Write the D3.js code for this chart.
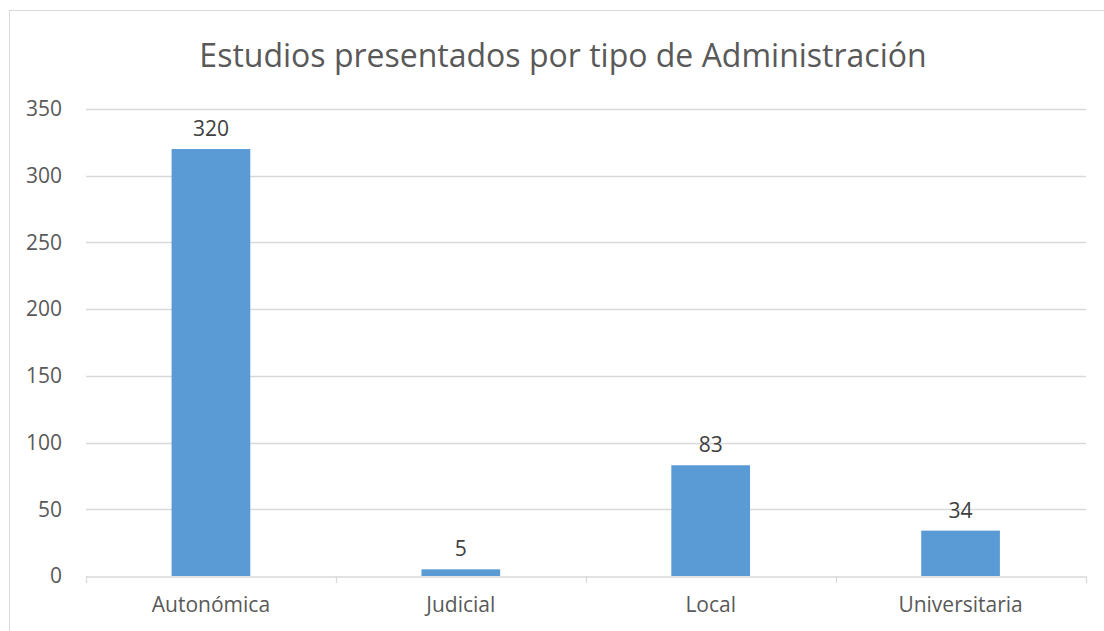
<!DOCTYPE html>
<html>
<head>
  <meta charset="utf-8">
  <title>Estudios presentados por tipo de Administración</title>
  <script src="https://d3js.org/d3.v7.min.js"></script>
  <style>
    html, body { margin: 0; overflow: hidden; height: 100%; background: #fff; }
    text { font-family: "Open Sans", "Liberation Sans", sans-serif; }
  </style>
</head>
<body>
<svg width="1104" height="631"></svg>

<script>
// datos
const categories = ["Autonómica", "Judicial", "Local", "Universitaria"];
const values = [320, 5, 83, 34];
const yTicks = [0, 50, 100, 150, 200, 250, 300, 350];
const title = "Estudios presentados por tipo de Administración";

const width = 1104, height = 631;
const margin = { top: 110, right: 18, bottom: 55, left: 86 };
const plotRight = width - margin.right;
const plotBottom = height - margin.bottom;

const svg = d3.select("svg");

// marco exterior
svg.append("rect")
  .attr("x", 9.5).attr("y", 10.5)
  .attr("width", 1200).attr("height", 700)
  .attr("fill", "#fff").attr("stroke", "#d9d9d9");

const x = d3.scaleBand()
  .domain(categories)
  .range([margin.left, plotRight - 0.5])
  .paddingInner(0.685).paddingOuter(0.3425);

const xGroup = d3.scaleBand()
  .domain(categories)
  .range([margin.left, plotRight - 0.5]);

const y = d3.scaleLinear()
  .domain([0, 350])
  .range([plotBottom, margin.top - 1]);

// título
svg.append("text")
  .attr("x", 563)
  .attr("y", 67)
  .attr("text-anchor", "middle")
  .attr("font-size", 32)
  .attr("fill", "#595959")
  .text(title);

// líneas de cuadrícula
svg.append("g")
  .selectAll("line")
  .data(yTicks.filter(d => d > 0))
  .enter().append("line")
  .attr("x1", margin.left).attr("x2", plotRight)
  .attr("y1", d => Math.round(y(d)) + 0.5)
  .attr("y2", d => Math.round(y(d)) + 0.5)
  .attr("stroke", "#d9d9d9")
  .attr("stroke-width", 1.3);

// eje Y
const yAxis = svg.append("g")
  .attr("transform", `translate(${margin.left},0)`)
  .call(d3.axisLeft(y).tickValues(yTicks).tickSize(0).tickPadding(24));
yAxis.select(".domain").remove();
yAxis.selectAll("text")
  .attr("font-size", 21)
  .attr("fill", "#595959")
  .attr("font-family", "\"Open Sans\", sans-serif");

// barras
svg.append("g")
  .selectAll("rect")
  .data(values)
  .enter().append("rect")
  .attr("x", (d, i) => x(categories[i]))
  .attr("width", x.bandwidth())
  .attr("y", d => y(d))
  .attr("height", d => plotBottom - y(d))
  .attr("fill", "#5b9bd5");

// etiquetas de datos
svg.append("g")
  .selectAll("text")
  .data(values)
  .enter().append("text")
  .attr("x", (d, i) => x(categories[i]) + x.bandwidth() / 2)
  .attr("y", d => y(d) - 13)
  .attr("text-anchor", "middle")
  .attr("font-size", 21)
  .attr("fill", "#404040")
  .text(d => d);

// eje X
const xAxis = svg.append("g")
  .attr("transform", `translate(0,${Math.round(plotBottom) + 0.5})`)
  .call(d3.axisBottom(xGroup).tickSize(0).tickPadding(21));
xAxis.select(".domain").attr("stroke", "#d9d9d9").attr("stroke-width", 1.3);
xAxis.selectAll("text")
  .attr("font-size", 21)
  .attr("fill", "#595959")
  .attr("font-family", "\"Open Sans\", sans-serif");

// marcas de división entre categorías
const bounds = categories.map(c => xGroup(c)).concat([xGroup(categories[3]) + xGroup.bandwidth()]);
svg.append("g")
  .selectAll("line")
  .data(bounds)
  .enter().append("line")
  .attr("x1", d => Math.round(d) + 0.5).attr("x2", d => Math.round(d) + 0.5)
  .attr("y1", plotBottom).attr("y2", plotBottom + 7)
  .attr("stroke", "#d9d9d9")
  .attr("stroke-width", 1.3);
</script>
</body>
</html>
